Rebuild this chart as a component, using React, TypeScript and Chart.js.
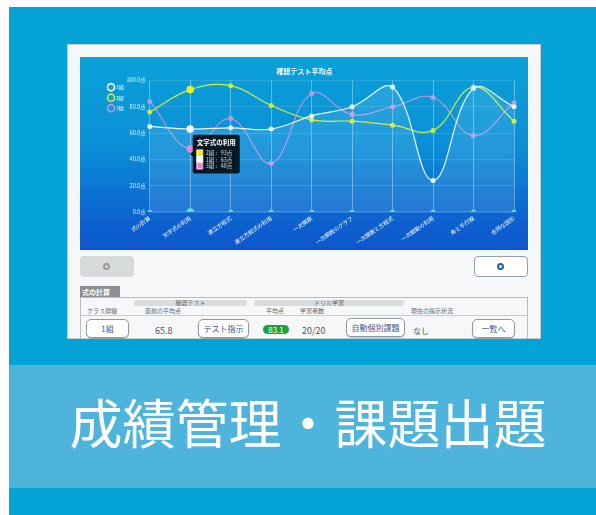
import React, { useEffect, useRef } from "react";
import { Chart, registerables, Tooltip } from "chart.js";
Chart.register(...registerables);

const categories = ["式の計算", "文字式の利用", "連立方程式", "連立方程式の利用", "一次関数", "一次関数のグラフ", "一次関数と方程式", "一次関数の利用", "角と平行線", "合同な図形"];
const class1 = [65, 63, 64, 63, 73, 80, 95, 24, 94, 80];
const class2 = [76, 93, 96, 81, 70, 69, 66, 62, 95, 69];
const class3 = [84, 48, 71, 37, 90, 74, 80, 87, 58, 83];
const baseline = [0, 0, 0, 0, 0, 0, 0, 0, 0, 0];
const seriesNames = ["1組", "2組", "3組"];
const yTicks = [0, 20, 40, 60, 80, 100];
const chartTitle = "確認テスト平均点";
const activeIndex = 1;
const tooltipAnchorValue = 44;

const FONT = "'Noto Sans CJK JP', 'Noto Sans', sans-serif";
const lineColors = ["rgba(255,255,255,0.9)", "#c8ee3a", "rgba(200,150,228,0.85)", "rgba(90,220,215,0.6)"];
const pointColors = ["#e6f6ff", "#c8ee3a", "#c597dd", "#3fd6cf"];
const hoverColors = ["#f4fbff", "#e4f02a", "#e57ccb", "#3ae3dc"];
const tooltipColors = ["#ffffff", "#f1e21f", "#e77ac8"];
const legendColors = ["#ffffff", "#c8ee3a", "#c597dd"];

(Tooltip.positioners as any).fixedAnchor = function (elements: any[]) {
  if (!elements.length) return false;
  const chart = (this as any).chart;
  return { x: elements[0].element.x, y: chart.scales.y.getPixelForValue(tooltipAnchorValue) };
};

const legendShift = {
  id: "legendShift",
  afterLayout(chart: any) {
    if (chart.legend) {
      chart.legend.left += 8;
      chart.legend.right += 8;
    }
  },
};

function ChartBox() {
  const ref = useRef<HTMLCanvasElement | null>(null);
  useEffect(() => {
    const canvas = ref.current!;
    const series = [class1, class2, class3, baseline];
    const labels = [...seriesNames, "基準"];
    const chart = new Chart(canvas, {
      type: "line",
      plugins: [legendShift],
      data: {
        labels: categories,
        datasets: series.map((d, i) => ({
          label: labels[i],
          data: d,
          borderColor: lineColors[i],
          backgroundColor: i === 0 ? "rgba(255,255,255,0.10)" : pointColors[i],
          fill: i === 0 ? "origin" : false,
          borderWidth: 1.2,
          tension: 0.4,
          pointRadius: 2.5,
          pointBackgroundColor: pointColors[i],
          pointBorderColor: pointColors[i],
          pointBorderWidth: 0,
          pointHoverRadius: 3.8,
          pointHoverBackgroundColor: hoverColors[i],
          pointHoverBorderColor: hoverColors[i],
          pointHoverBorderWidth: 0,
        })),
      },
      options: {
        responsive: false,
        maintainAspectRatio: false,
        animation: false,
        events: [],
        layout: { padding: { left: 15, right: 14, top: 0, bottom: 0 } },
        plugins: {
          title: {
            display: true,
            text: chartTitle,
            color: "#ffffff",
            font: { size: 7, weight: "bold", family: FONT },
            padding: { top: 10, bottom: 5 },
          },
          legend: {
            position: "left",
            align: "start",
            title: { display: true, text: " ", font: { size: 1 }, padding: { top: 0, bottom: 21 } },
            labels: {
              color: "#ffffff",
              font: { size: 5, family: FONT },
              usePointStyle: true,
              boxWidth: 7,
              boxHeight: 7,
              padding: 5.5,
              generateLabels: (c: any) =>
                c.data.datasets.slice(0, 3).map((ds: any, i: number) => ({
                  text: ds.label,
                  fillStyle: "rgba(0,0,0,0)",
                  strokeStyle: legendColors[i],
                  lineWidth: 1.6,
                  pointStyle: "circle",
                  hidden: false,
                  datasetIndex: i,
                  fontColor: "#ffffff",
                })),
            },
          },
          tooltip: {
            enabled: true,
            position: "fixedAnchor" as any,
            mode: "index",
            intersect: false,
            filter: (item: any) => item.datasetIndex < 3,
            itemSort: (a: any, b: any) => b.parsed.y - a.parsed.y,
            backgroundColor: "rgba(6,14,22,0.92)",
            titleColor: "#ffffff",
            bodyColor: "#d8d8d8",
            titleFont: { size: 6.5, weight: "bold", family: FONT },
            bodyFont: { size: 5.5, family: FONT },
            titleMarginBottom: 3,
            bodySpacing: 0,
            padding: 4,
            caretSize: 2.5,
            caretPadding: 0,
            cornerRadius: 2,
            xAlign: "left",
            yAlign: "center",
            boxWidth: 6,
            boxHeight: 6,
            boxPadding: 1,
            callbacks: {
              label: (ctx: any) => `${ctx.dataset.label} :   ${ctx.parsed.y}点`,
              labelColor: (ctx: any) => ({
                borderColor: tooltipColors[ctx.datasetIndex],
                backgroundColor: tooltipColors[ctx.datasetIndex],
                borderWidth: 0,
              }),
            },
          },
        },
        scales: {
          x: {
            offset: false,
            grid: { color: "rgba(255,255,255,0.35)", lineWidth: 1, drawTicks: false },
            border: { display: false },
            ticks: {
              color: "#ffffff",
              font: { size: 5.5, family: FONT },
              maxRotation: 35,
              minRotation: 35,
              autoSkip: false,
              padding: 3,
            },
            afterFit: (s: any) => { s.height = 38; },
          },
          y: {
            min: 0,
            max: 100,
            grid: { color: "rgba(255,255,255,0.13)", lineWidth: 1, drawTicks: false },
            border: { display: false },
            afterBuildTicks: (s: any) => { s.ticks = yTicks.map((v) => ({ value: v })); },
            ticks: {
              color: "rgba(255,255,255,0.9)",
              font: { size: 5.5, family: FONT },
              padding: 4,
              callback: (v: any) => Number(v).toFixed(1) + "点",
            },
            afterFit: (s: any) => { s.width = 24; },
          },
        },
      },
    });
    const els = [0, 1, 2, 3].map((d) => ({ datasetIndex: d, index: activeIndex }));
    chart.setActiveElements(els);
    chart.update();
    const el = chart.getDatasetMeta(0).data[activeIndex] as any;
    chart.tooltip!.setActiveElements(els, { x: el.x, y: el.y });
    chart.render();
    return () => chart.destroy();
  }, []);
  return <canvas ref={ref} width={448} height={193} style={{ width: 448, height: 193, display: "block" }} />;
}

const abs = (l: number, t: number, w: number, h: number, extra: React.CSSProperties = {}): React.CSSProperties => ({
  position: "absolute", left: l, top: t, width: w, height: h, boxSizing: "border-box", ...extra,
});

const btn = (l: number, t: number, w: number, h: number, text: string) => (
  <div style={abs(l, t, w, h, {
    border: "1px solid #8d9aa3", borderRadius: 5, background: "#fff", color: "#3a5a8a",
    fontSize: 8, lineHeight: `${h - 2}px`, textAlign: "center", boxShadow: "0 1px 1px rgba(0,0,0,0.2)",
  })}>{text}</div>
);

export default function App() {
  return (
    <div style={{ position: "fixed", left: 0, top: 0, width: 596, height: 515, background: "#fff", overflow: "hidden", fontFamily: FONT }}>
      <div style={abs(9, 7, 587, 508, { background: "#03a3d5" })} />
      <div style={abs(9, 365, 587, 123, { background: "#4fb4dc" })} />
      <div style={abs(40, 390, 536, 62, { color: "#fff", fontSize: 53, lineHeight: "62px", textAlign: "center", whiteSpace: "nowrap" })}>
        成績管理・課題出題
      </div>

      <div style={abs(67, 44, 474, 295, { background: "#f6f7f9", border: "1px solid #c9cccf" })} />
      <div style={abs(80, 57, 448, 193, { background: "linear-gradient(to bottom, #0aa2d9 0%, #0b8fd6 45%, #0d62cf 85%, #0e55cc 100%)" })}>
        <ChartBox />
      </div>

      <div style={abs(80, 256, 54, 21, { background: "#d6dadb", borderRadius: 4 })}>
        <div style={abs(23, 7, 7, 7, { borderRadius: "50%", border: "2px solid #9a9a9a", background: "#d6dadb" })} />
      </div>
      <div style={abs(474, 256, 54, 21, { background: "#fff", borderRadius: 4, border: "1px solid #8ea1ad" })}>
        <div style={abs(22, 6, 7, 7, { borderRadius: "50%", border: "2px solid #1f5fb8", background: "#fff" })} />
      </div>

      <div style={abs(80, 286, 40, 12, { background: "#8c8f91", color: "#fff", fontSize: 7, lineHeight: "12px", paddingLeft: 2, fontWeight: "bold" })}>式の計算</div>
      <div style={abs(80, 297, 448, 43, { borderTop: "1px solid #b9bcbe", borderLeft: "1px solid #b9bcbe", borderRight: "1px solid #b9bcbe" })} />
      <div style={abs(134, 300, 113, 6, { background: "#d9dcdd", borderRadius: 3 })} />
      <div style={abs(254, 300, 150, 6, { background: "#d9dcdd", borderRadius: 3 })} />
      <div style={abs(134, 298, 113, 9, { color: "#666", fontSize: 6, lineHeight: "9px", textAlign: "center" })}>確認テスト</div>
      <div style={abs(254, 298, 150, 9, { color: "#666", fontSize: 6, lineHeight: "9px", textAlign: "center" })}>ドリル学習</div>
      <div style={abs(80, 315, 448, 1, { background: "#c9cccf" })} />
      <div style={abs(87, 306, 40, 9, { color: "#666", fontSize: 6, lineHeight: "9px" })}>クラス詳細</div>
      <div style={abs(145, 306, 50, 9, { color: "#666", fontSize: 6, lineHeight: "9px" })}>直前の平均点</div>
      <div style={abs(266, 306, 30, 9, { color: "#666", fontSize: 6, lineHeight: "9px" })}>平均点</div>
      <div style={abs(300, 306, 30, 9, { color: "#666", fontSize: 6, lineHeight: "9px" })}>学習者数</div>
      <div style={abs(411, 306, 60, 9, { color: "#666", fontSize: 6, lineHeight: "9px" })}>現在の提示状況</div>

      {btn(86, 319, 43, 19, "1組")}
      <div style={abs(155, 324, 30, 14, { color: "#555", fontSize: 9, lineHeight: "14px" })}>65.8</div>
      {btn(198, 319, 51, 19, "テスト指示")}
      <div style={abs(263, 325, 26, 9, { background: "#1aa33a", color: "#fff", borderRadius: 5, fontSize: 8, lineHeight: "9px", textAlign: "center" })}>83.1</div>
      <div style={abs(302, 324, 30, 14, { color: "#555", fontSize: 9, lineHeight: "14px" })}>20/20</div>
      {btn(346, 318, 59, 19, "自動個別課題")}
      <div style={abs(413, 324, 20, 14, { color: "#555", fontSize: 8, lineHeight: "14px" })}>なし</div>
      {btn(472, 319, 43, 19, "一覧へ")}
      <div style={abs(67, 339, 474, 26, { background: "#03a3d5" })} />
    </div>
  );
}
